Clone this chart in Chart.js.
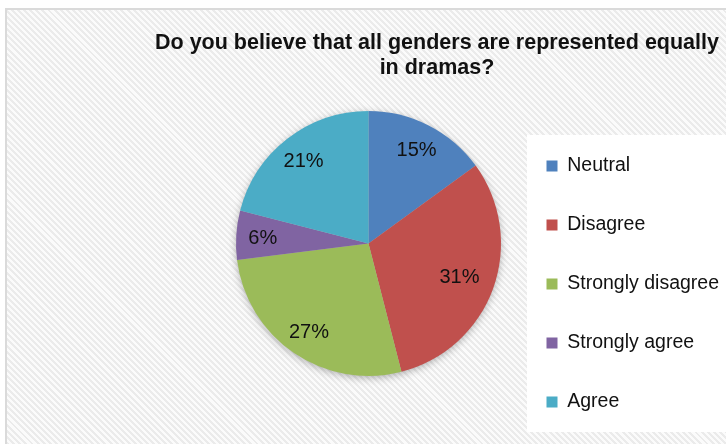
<!DOCTYPE html>
<html>
<head>
<meta charset="utf-8">
<title>Gender representation in dramas</title>
<script src="https://cdn.jsdelivr.net/npm/chart.js@4.4.1/dist/chart.umd.min.js"></script>
<style>
  html, body {
    margin: 0;
    padding: 0;
    width: 726px;
    height: 444px;
    overflow: hidden;
    background: #ffffff;
  }
  /* hatched chart panel, cut off at the right and bottom */
  .panel {
    position: absolute;
    left: 5px;
    top: 8px;
    width: 780px;
    height: 480px;
    border: 2px solid #dadada;
    background: repeating-linear-gradient(45deg, #fbfbfb 0px, #fbfbfb 2.2px, #ebebeb 2.2px, #ebebeb 4.3px);
  }
  #chartWrap {
    position: absolute;
    left: 0;
    top: 2px;
  }
  .chart-title {
    position: absolute;
    left: 148px;
    width: 578px;
    top: 30px;
    text-align: center;
    font-family: "Liberation Sans", Arial, sans-serif;
    font-weight: bold;
    font-size: 21.5px;
    line-height: 25px;
    color: #111;
    white-space: nowrap;
  }
</style>
</head>
<body>
<div class="panel"></div>
<div id="chartWrap"><canvas id="pieChart" width="780" height="460"></canvas></div>
<div class="chart-title">Do you believe that all genders are represented equally<br>in dramas?</div>

<script>
// survey answers, share of respondents in percent
const categories = ['Neutral', 'Disagree', 'Strongly disagree', 'Strongly agree', 'Agree'];
const shares = [15, 31, 27, 6, 21];
const sliceColors = ['#4f81bd', '#c0504d', '#9bbb59', '#8064a2', '#4bacc6'];

const FONT = '"Liberation Sans", Arial, sans-serif';
const legendFontSize = 19.5;
const legendPadding = 39.5;
const legendBox = 11;
const legendLeft = 507;   // x where the legend column begins
const canvasWidth = 780;

// the legend takes its natural width, so size the right padding around it
const measure = document.createElement('canvas').getContext('2d');
measure.font = legendFontSize + 'px ' + FONT;
const longestLabel = Math.max(...categories.map(c => measure.measureText(c).width));
const legendWidth = legendPadding + legendBox + legendFontSize / 2 + longestLabel + 10;
const rightPad = canvasWidth - legendLeft - legendWidth;

// white box behind the legend entries
const legendPanel = {
    id: 'legendPanel',
    beforeDraw(chart) {
        const lg = chart.legend;
        if (!lg || !lg.columnSizes) return;
        const colH = lg.columnSizes[0].height;
        const y0 = lg.bottom - colH;
        const ctx = chart.ctx;
        ctx.save();
        ctx.fillStyle = '#ffffff';
        ctx.fillRect(lg.left + 20, y0 - 21.25, chart.width, colH + 2);
        ctx.restore();
    }
};

// soft shadow under the pie
const pieShadow = {
    id: 'pieShadow',
    beforeDatasetsDraw(chart) {
        const arc = chart.getDatasetMeta(0).data[0];
        if (!arc) return;
        const ctx = chart.ctx;
        ctx.save();
        ctx.shadowColor = 'rgba(0, 0, 0, 0.35)';
        ctx.shadowBlur = 9;
        ctx.shadowOffsetY = 2;
        ctx.fillStyle = '#bbbbbb';
        ctx.beginPath();
        ctx.arc(arc.x, arc.y, arc.outerRadius - 1, 0, Math.PI * 2);
        ctx.fill();
        ctx.restore();
    }
};

// percentage labels inside each slice
const sliceLabels = {
    id: 'sliceLabels',
    afterDatasetsDraw(chart) {
        const ctx = chart.ctx;
        const meta = chart.getDatasetMeta(0);
        ctx.save();
        ctx.font = '20px ' + FONT;
        ctx.fillStyle = '#111111';
        ctx.textAlign = 'center';
        ctx.textBaseline = 'middle';
        meta.data.forEach((arc, i) => {
            const p = arc.getProps(['x', 'y', 'startAngle', 'endAngle', 'outerRadius'], true);
            const mid = (p.startAngle + p.endAngle) / 2;
            const r = p.outerRadius * (shares[i] > 30 ? 0.73 : 0.8);
            ctx.fillText(shares[i] + '%', p.x + Math.cos(mid) * r, p.y + Math.sin(mid) * r + 1.5);
        });
        ctx.restore();
    }
};

new Chart(document.getElementById('pieChart'), {
    type: 'pie',
    data: {
        labels: categories,
        datasets: [{
            data: shares,
            backgroundColor: sliceColors,
            borderWidth: 0,
            radius: 132.5,
            clip: false
        }]
    },
    options: {
        responsive: false,
        animation: false,
        events: [],
        layout: {
            padding: { left: 230, right: rightPad, top: 33.75, bottom: 10.75 }
        },
        plugins: {
            title: { display: false },
            tooltip: { enabled: false },
            legend: {
                position: 'right',
                align: 'end',
                maxWidth: legendWidth + 20,
                labels: {
                    boxWidth: legendBox,
                    boxHeight: legendBox,
                    padding: legendPadding,
                    color: '#111111',
                    font: {
                        family: FONT,
                        size: legendFontSize
                    }
                }
            }
        }
    },
    plugins: [legendPanel, pieShadow, sliceLabels]
});
</script>
</body>
</html>
